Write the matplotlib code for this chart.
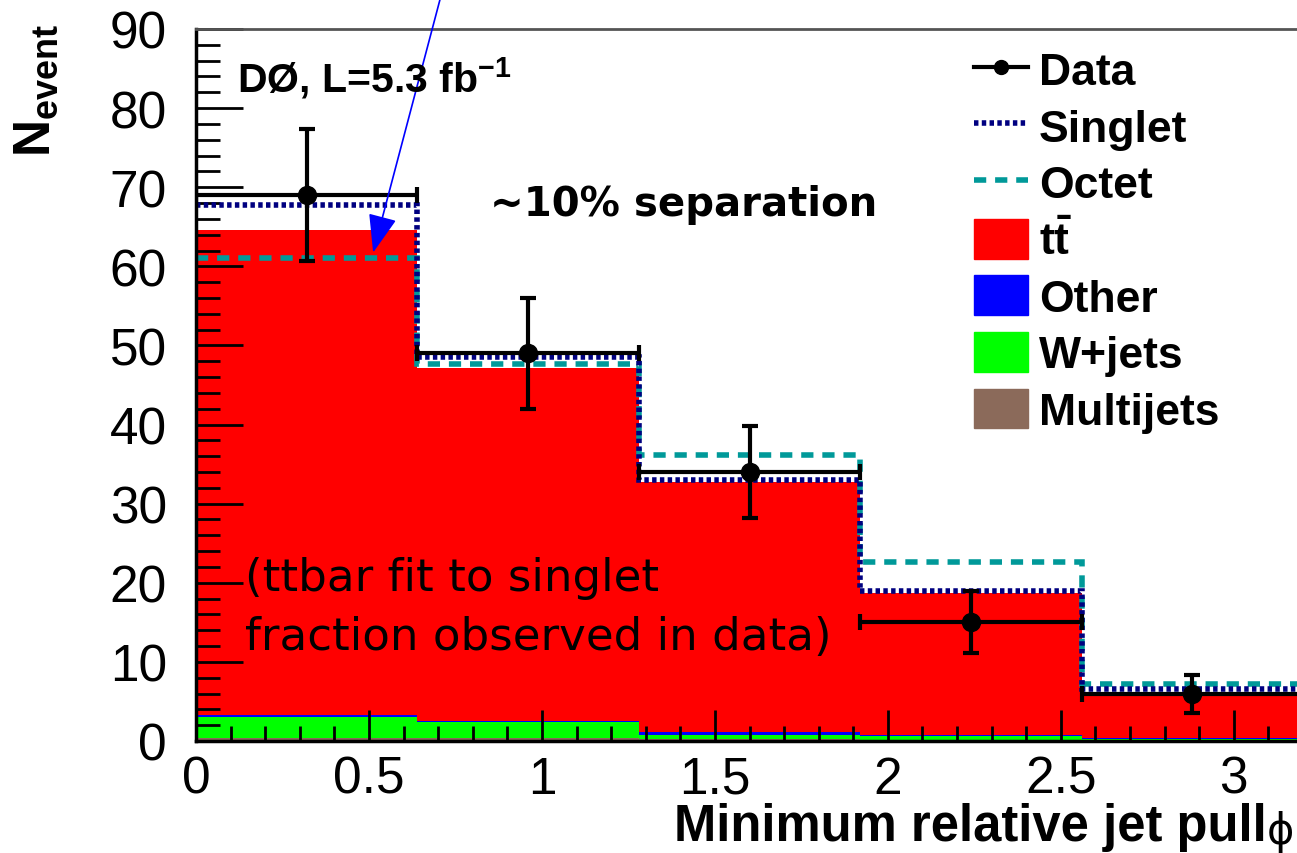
import matplotlib
matplotlib.use("Agg")
import matplotlib.pyplot as plt
import numpy as np
from matplotlib.lines import Line2D
from matplotlib.patches import Patch
from matplotlib.ticker import MultipleLocator

plt.rcParams['font.family'] = ['Liberation Sans', 'DejaVu Sans']
plt.rcParams['mathtext.fontset'] = 'custom'
plt.rcParams['mathtext.rm'] = 'Liberation Sans'
plt.rcParams['mathtext.bf'] = 'Liberation Sans:bold'

# ---- data ----
bin_edges = [0.0, 0.64, 1.28, 1.92, 2.56, 3.2]
data_vals = [69, 49, 34, 15, 6]
data_errs = [8.3, 7.0, 5.8, 3.9, 2.4]
singlet_vals = [67.8, 48.6, 33.0, 19.0, 6.6]
octet_vals = [61.0, 47.6, 36.1, 22.6, 7.2]
multijets_vals = [0.4, 0.35, 0.2, 0.15, 0.05]
wjets_vals = [2.6, 2.0, 0.6, 0.45, 0.2]
other_vals = [0.25, 0.2, 0.3, 0.1, 0.1]
ttbar_vals = [61.3, 44.6, 31.6, 18.0, 5.9]

x_ticks = [0, 0.5, 1, 1.5, 2, 2.5, 3]
x_tick_labels = ["0", "0.5", "1", "1.5", "2", "2.5", "3"]
y_ticks = [0, 10, 20, 30, 40, 50, 60, 70, 80, 90]

W, H = 1297, 854
fig = plt.figure(figsize=(W / 100, H / 100), dpi=100)
ax = fig.add_axes([196 / W, 1 - 742 / H, (1303 - 196) / W, (742 - 30) / H])

edges = np.array(bin_edges)
centers = 0.5 * (edges[:-1] + edges[1:])
halfw = 0.5 * np.diff(edges)

# stacked backgrounds
base = np.zeros(len(data_vals))
stack = [(multijets_vals, '#8b6a5a'), (wjets_vals, '#00ff00'),
         (other_vals, '#0000ff'), (ttbar_vals, '#ff0000')]
for vals, col in stack:
    v = np.array(vals)
    ax.stairs(base + v, edges, baseline=base.copy(), fill=True, color=col, lw=0, zorder=1)
    base = base + v

# model lines
ax.stairs(octet_vals, edges, baseline=None, color='#009999', lw=4, ls=(0, (2.2, 1.6)), zorder=3)
ax.stairs(singlet_vals, edges, baseline=None, color='#000080', lw=4, ls=(0, (0.8, 0.6)), zorder=3)

# data
ax.errorbar(centers, data_vals, yerr=data_errs, xerr=halfw, fmt='o', color='black',
            ms=13, lw=3, capsize=6, capthick=3, zorder=5)

ax.set_xlim(0, 3.2)
ax.set_ylim(0, 90)
ax.set_xticks(x_ticks)
ax.set_xticklabels(x_tick_labels)
ax.set_yticks(y_ticks)
ax.xaxis.set_minor_locator(MultipleLocator(0.1))
ax.yaxis.set_minor_locator(MultipleLocator(2))
ax.tick_params(axis='both', which='both', direction='in', top=False, right=False,
               labelsize=37, width=2, zorder=6)
ax.tick_params(axis='y', which='major', length=34, pad=21)
ax.tick_params(axis='y', which='minor', length=17)
ax.tick_params(axis='x', which='major', length=22, pad=10)
ax.tick_params(axis='x', which='minor', length=11)
for lab in ax.get_xticklabels() + ax.get_yticklabels():
    lab.set_zorder(6)
ax.spines['left'].set_linewidth(2.5)
ax.spines['bottom'].set_linewidth(2.5)
ax.spines['top'].set_linewidth(2)
ax.spines['top'].set_color('#555555')
ax.spines['right'].set_visible(False)
for s in ax.spines.values():
    s.set_zorder(6)

fig.text(1267 / W, 1 - 828 / H, "Minimum relative jet pull", ha='right', va='center',
         fontsize=36.5, fontweight='bold')
fig.text(1294 / W, 1 - 832 / H, "\u03d5", ha='right', va='center',
         fontsize=30, family='DejaVu Sans')
fig.text(36 / W, 1 - 90 / H, r"$\mathbf{N_{event}}$", ha='center', va='center',
         rotation=90, fontsize=37)

fig.text(237 / W, 1 - 78 / H, r"DØ, L=5.3 fb$^{\mathbf{-1}}$", ha='left', va='center',
         fontsize=29.5, fontweight='bold')
fig.text(490 / W, 1 - 205 / H, "~10% separation", ha='left', va='center',
         fontsize=29, fontweight='bold', family='DejaVu Sans')
fig.text(245 / W, 1 - 608 / H, "(ttbar fit to singlet\nfraction observed in data)",
         ha='left', va='center', fontsize=32.5, family='DejaVu Sans', linespacing=1.45)

# arrow
ax.annotate("", xy=(0.51, 61.4), xytext=(0.71, 94.5),
            arrowprops=dict(arrowstyle='-|>,head_length=2.4,head_width=0.9',
                            color='#0000ff', lw=1.2), annotation_clip=False, zorder=7)

handles = [
    Line2D([], [], color='black', lw=3, marker='o', ms=10),
    Line2D([], [], color='#000080', lw=4, ls=(0, (0.8, 0.6))),
    Line2D([], [], color='#009999', lw=4, ls=(0, (2.2, 1.6))),
    Patch(color='#ff0000'),
    Patch(color='#0000ff'),
    Patch(color='#00ff00'),
    Patch(color='#8b6a5a'),
]
labels = ["Data", "Singlet", "Octet", r"$\mathbf{t\bar{t}}$", "Other", "W+jets", "Multijets"]
leg = ax.legend(handles, labels, loc='upper left', bbox_to_anchor=(952 / W, 1 - 28 / H),
                bbox_transform=fig.transFigure, frameon=False,
                prop={'weight': 'bold', 'size': 32}, handlelength=1.2, handleheight=1.0,
                handletextpad=0.25, labelspacing=0.28, borderpad=0)
leg.set_zorder(8)

fig.savefig("out.png", dpi=100)
